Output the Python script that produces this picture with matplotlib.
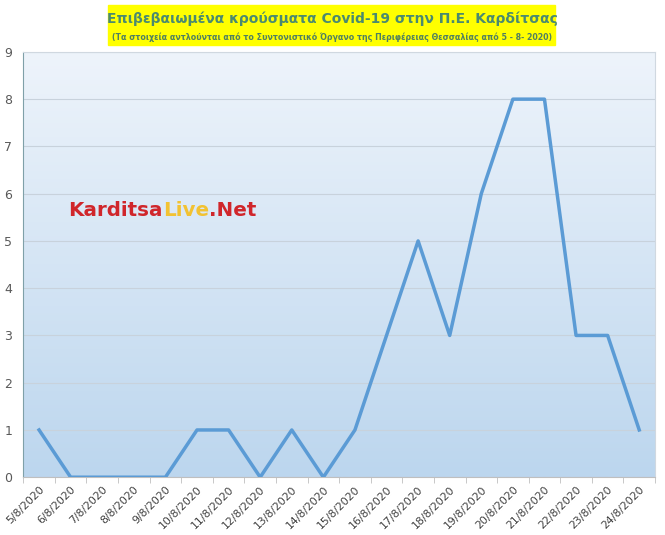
import numpy as np
import matplotlib.pyplot as plt
from matplotlib.colors import LinearSegmentedColormap

dates = ["5/8/2020", "6/8/2020", "7/8/2020", "8/8/2020", "9/8/2020", "10/8/2020",
         "11/8/2020", "12/8/2020", "13/8/2020", "14/8/2020", "15/8/2020", "16/8/2020",
         "17/8/2020", "18/8/2020", "19/8/2020", "20/8/2020", "21/8/2020", "22/8/2020",
         "23/8/2020", "24/8/2020"]
cases = [1, 0, 0, 0, 0, 1, 1, 0, 1, 0, 1, 3, 5, 3, 6, 8, 8, 3, 3, 1]

fig = plt.figure(figsize=(6.65, 5.35), dpi=100)
ax = fig.add_axes([0.035, 0.108, 0.95, 0.795])

x = np.arange(len(dates))
# gradient background
grad = np.linspace(0, 1, 256).reshape(-1, 1)
cmap = LinearSegmentedColormap.from_list("bg", ["#eef4fb", "#bcd6ee"])
ax.imshow(grad, cmap=cmap, aspect="auto", extent=[-0.5, len(dates) - 0.5, 0, 9],
          origin="upper", zorder=0)

ax.plot(x, cases, color="#5b9bd5", lw=2.5, zorder=3)

ax.set_xlim(-0.5, len(dates) - 0.5)
ax.set_ylim(0, 9)
ax.set_yticks(range(0, 10))
ax.yaxis.grid(True, color="#c8d2dc", lw=0.8, zorder=1)
ax.tick_params(axis="y", length=0, labelsize=9, colors="#595959", pad=8)
ax.set_xticks(x)
ax.set_xticklabels(dates, rotation=45, ha="right", rotation_mode="anchor",
                   fontsize=7.8, color="#404040")
ax.tick_params(axis="x", length=0, pad=5)
ax.set_xticks(np.arange(-0.5, len(dates)), minor=True)
ax.tick_params(axis="x", which="minor", length=4, color="#bfbfbf")

for s in ["top", "right"]:
    ax.spines[s].set_color("#d0d8e0")
ax.spines["left"].set_color("#7fa0a8")
ax.spines["bottom"].set_color("#bfbfbf")

# watermark
wy = 0.615
t1 = ax.text(0.071, wy, "Karditsa", transform=ax.transAxes, fontsize=14.3,
             fontweight="bold", color="#d0262b", zorder=4)
fig.canvas.draw()
inv = ax.transAxes.inverted()
x2 = inv.transform((t1.get_window_extent().x1, 0))[0]
t2 = ax.text(x2, wy, "Live", transform=ax.transAxes, fontsize=14.3,
             fontweight="bold", color="#f2c232", zorder=4)
fig.canvas.draw()
x3 = inv.transform((t2.get_window_extent().x1, 0))[0]
ax.text(x3, wy, ".Net", transform=ax.transAxes, fontsize=14.3,
        fontweight="bold", color="#d0262b", zorder=4)

# title box
fig.patches.append(plt.Rectangle((108 / 665, 1 - 45 / 535), 447 / 665, 40 / 535,
                                 transform=fig.transFigure, color="#ffff00", zorder=0))
fig.text(0.5, 1 - 19 / 535, "Επιβεβαιωμένα κρούσματα Covid-19 στην Π.Ε. Καρδίτσας",
         ha="center", va="center", fontsize=10, fontweight="bold", color="#4a8a70")
fig.text(0.5, 1 - 37 / 535,
         "(Τα στοιχεία αντλούνται από το Συντονιστικό Όργανο της Περιφέρειας Θεσσαλίας από 5 - 8- 2020)",
         ha="center", va="center", fontsize=5.7, fontweight="bold", color="#4f7f62")

fig.savefig("out.png", dpi=100)
